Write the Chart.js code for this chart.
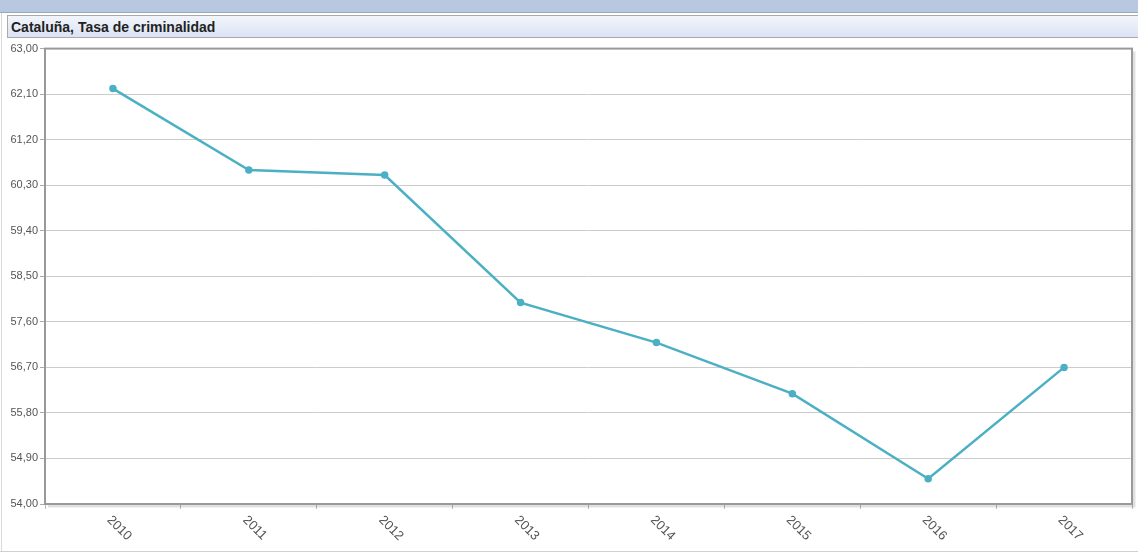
<!DOCTYPE html>
<html>
<head>
<meta charset="utf-8">
<script src="https://cdn.jsdelivr.net/npm/chart.js@4.4.1/dist/chart.umd.min.js"></script>
<style>
  html, body { margin: 0; padding: 0; background: #fff; width: 1138px; height: 559px; overflow: hidden; }
  #topbar { position: absolute; left: 0; top: 0; width: 1138px; height: 12px; background: #b8c8e0; border-bottom: 1px solid #9aa8bf; }
  #leftline { position: absolute; left: 1px; top: 13px; width: 1px; height: 538px; background: #d8d8d8; }
  #bottomline { position: absolute; left: 0; top: 551px; width: 1138px; height: 1px; background: #d0d0d0; }
  #title { position: absolute; left: 7px; top: 15px; width: 1140px; height: 23px; border: 1px solid #aaa;
           background: linear-gradient(#f2f5fb, #dbe3f4); font: bold 14px "Liberation Sans", Arial, sans-serif;
           color: #222; line-height: 22px; padding-left: 3px; box-sizing: border-box; }
  #wrap { position: absolute; left: 0; top: 40px; width: 1138px; height: 510px; }
</style>
</head>
<body>
<div id="topbar"></div>
<div id="leftline"></div>
<div id="bottomline"></div>
<div id="title">Cataluña, Tasa de criminalidad</div>
<div id="wrap"><canvas id="chart"></canvas></div>
<script>
const years = ['2010', '2011', '2012', '2013', '2014', '2015', '2016', '2017'];
const rates = [62.21, 60.60, 60.50, 57.98, 57.19, 56.18, 54.50, 56.70];
const yTicks = [54.0, 54.9, 55.8, 56.7, 57.6, 58.5, 59.4, 60.3, 61.2, 62.1, 63.0];

const lineColor = 'rgb(75, 176, 196)';

// frame around the plot with a light shadow, and rotated year labels
const framePlugin = {
    id: 'frame',
    beforeDatasetsDraw(chart) {
        const { ctx, chartArea: a } = chart;
        ctx.save();
        ctx.strokeStyle = 'rgba(0,0,0,0.12)';
        ctx.lineWidth = 3;
        ctx.beginPath();
        ctx.moveTo(a.right + 2, a.top + 3);
        ctx.lineTo(a.right + 2, a.bottom + 2);
        ctx.lineTo(a.left + 3, a.bottom + 2);
        ctx.stroke();
        ctx.strokeStyle = '#999';
        ctx.lineWidth = 2;
        ctx.strokeRect(a.left, a.top, a.right - a.left, a.bottom - a.top);
        ctx.restore();
    },
    afterDraw(chart) {
        const { ctx } = chart;
        const x = chart.scales.x;
        ctx.save();
        ctx.font = '13px "Liberation Sans", Arial, sans-serif';
        ctx.fillStyle = '#555';
        ctx.textAlign = 'left';
        ctx.textBaseline = 'middle';
        years.forEach((yr, i) => {
            ctx.save();
            ctx.translate(x.getPixelForValue(i) - 4, x.top + 14);
            ctx.rotate(Math.PI / 4);
            ctx.fillText(yr, 0, 0);
            ctx.restore();
        });
        ctx.restore();
    }
};

new Chart(document.getElementById('chart'), {
    type: 'line',
    data: {
        labels: years,
        datasets: [{
            data: rates,
            borderColor: lineColor,
            backgroundColor: lineColor,
            borderWidth: 2.5,
            pointRadius: 2.5,
            pointHoverRadius: 2.5,
            fill: false,
            tension: 0
        }]
    },
    options: {
        responsive: true,
        maintainAspectRatio: false,
        animation: false,
        layout: { padding: { top: 8, right: 6, left: 0, bottom: 0 } },
        plugins: {
            legend: { display: false },
            tooltip: { enabled: false }
        },
        scales: {
            x: {
                offset: true,
                grid: { offset: true, drawOnChartArea: false, drawTicks: true, tickLength: 5, color: '#bbb' },
                border: { display: false },
                ticks: { display: false },
                afterFit(scale) { scale.height = 46; }
            },
            y: {
                min: 54,
                max: 63,
                afterBuildTicks(scale) { scale.ticks = yTicks.map(v => ({ value: v })); },
                grid: { color: '#ccc', tickLength: 5, tickColor: '#aaa' },
                border: { display: false },
                ticks: {
                    font: { size: 11, family: '"Liberation Sans", Arial, sans-serif' },
                    color: '#555',
                    padding: 2,
                    callback: v => v.toFixed(2).replace('.', ',')
                },
                afterFit(scale) { scale.width = 45; }
            }
        }
    },
    plugins: [framePlugin]
});
</script>
</body>
</html>
